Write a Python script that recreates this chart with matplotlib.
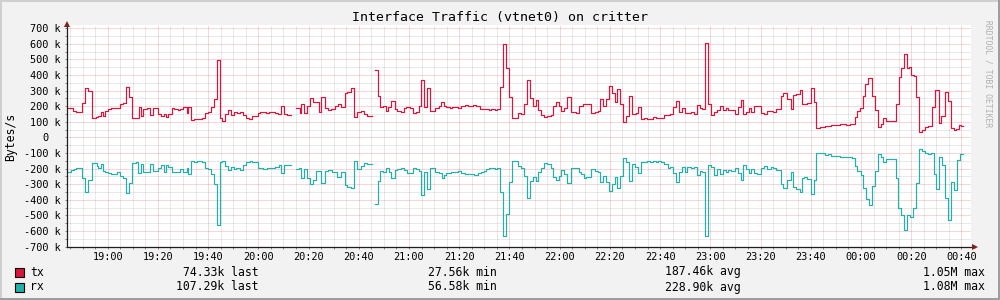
import numpy as np
import matplotlib
matplotlib.use("Agg")
import matplotlib.pyplot as plt
from matplotlib.patches import Rectangle
from matplotlib.ticker import FixedLocator
from matplotlib.transforms import ScaledTranslation

plt.rcParams["font.family"] = "DejaVu Sans Mono"

# step start times, minutes after 18:43; values in kB/s (nan = no data)
nan = float("nan")
tx_t = [0, 3.3, 4.6, 6.9, 8.0, 9.3, 10.6, 12.2, 13.3, 14.2, 15.0, 15.9, 17.0, 18.3, 19.6, 21.9,
        23.0, 24.3, 25.6, 26.9, 28.1, 29.5, 30.3, 31.2, 32.5, 33.9, 34.9, 37.2, 38.1, 39.3, 40.2,
        41.2, 42.5, 43.5, 45.1, 45.8, 47.1, 48.5, 49.1, 50.2, 51.2, 52.4, 54.4, 55.8, 57.1, 58.1, 59.2,
        60.7, 61.9, 62.5, 63.9, 64.9, 66.0, 67.3, 68.6, 69.8, 70.9, 72.2, 73.3, 74.6, 76.9, 77.8,
        79.9, 81.3, 83.5, 84.8, 86.2, 87.2, 88.6, 89.9, 91.9, 93.5, 94.1, 95.2, 96.5, 97.7, 98.8,
        101.0, 102.1, 103.4, 104.7, 106.1, 107.4, 108.7, 110.1, 111.4, 112.5, 113.8, 115.1, 116.4,
        117.8, 119.0,
        120.4, 122.3, 123.3, 124.7, 125.3, 126.7, 127.7, 128.6, 130.0, 131.3, 132.4, 133.7, 135.0,
        136.0, 137.3, 138.6, 139.9, 140.9, 141.7, 143.0, 144.0, 145.2, 147.5, 148.8, 149.9, 150.9,
        151.9, 153.2, 154.3, 156.5, 157.8, 159.2, 160.5, 162.5, 163.8, 165.1, 168.9, 169.8, 171.1,
        172.2, 173.1, 174.4, 175.8, 176.8, 177.9,
        180.4, 181.5, 182.8, 184.1, 185.2, 186.4, 187.5, 188.4, 189.4, 190.8, 192.1, 193.4, 194.4,
        195.4, 196.7, 197.7, 198.7, 200.1, 201.4, 203.7, 204.7, 206.3, 209.6, 211.0, 212.3, 213.2,
        214.3, 215.6, 216.7, 217.9, 218.9, 220.0, 221.2, 222.2, 223.6, 224.6, 225.8, 227.5, 228.2,
        229.3, 230.5, 231.9, 234.2, 235.2, 238.6,
        240.8, 242.1, 243.2, 244.4, 245.7, 246.8, 247.8, 249.2, 250.5, 251.8, 252.8, 253.8, 255.0,
        256.1, 257.4, 258.5, 259.8, 261.0, 262.1, 263.1, 264.0, 265.1, 267.0, 268.0, 269.1, 270.2,
        271.3, 272.3, 273.3, 274.4, 275.5, 277.3, 278.4, 279.7, 282.0, 283.3, 285.0, 286.0, 287.7,
        289.0, 289.9, 291.3, 292.6, 293.5, 295.6, 297.0, 298.3,
        299.2, 300.6, 302.5, 304.9, 308.5, 311.2, 312.5, 314.5, 315.4, 316.5, 317.8, 318.7, 319.8,
        321.4, 322.5, 323.8, 324.8, 325.8, 326.8, 331.1, 332.0, 333.1, 334.1, 335.2, 336.1, 337.1,
        338.0, 339.0, 340.1, 341.3, 342.4, 343.7, 345.3, 346.6, 347.9, 349.0, 350.3, 351.7, 352.7,
        354.0, 355.0, 356.0, 357.0]
tx_v = [187, 170, 161, 219, 315, 298, 123, 131, 138, 166, 138, 172, 180, 191, 187, 212, 223, 321,
        257, 127, 123, 195, 140, 182, 187, 144, 187, 153, 138, 148, 134, 148, 187, 182, 174, 180,
        198, 155, 193, 112, 116, 119, 127, 155, 166, 198, 247,
        497, 123, 107, 148, 174, 144, 161, 155, 166, 144, 123, 116, 140, 155, 166, 155, 161, 155,
        150, 200, 148, 144, nan, 187, 155, 217, 155, 204, 251, 225, 161, 257, 187, 176, 182, 202,
        217, 198, 283, 294, 315, 131, 166, 170, 148,
        138, nan, 433, 268, 198, 202, 170, 198, 234, 180, 170, 161, 187, 195, 187, 155, 161, 202,
        368, 198, 315, 170, 187, 204, 225, 204, 198, 191, 198, 191, 204, 208, 204, 208, 200, 182,
        174, 182, 174, 182, 326, 600, 443, 257, 123,
        155, 148, 212, 368, 251, 204, 238, 174, 144, 131, 140, 144, 202, 225, 204, 170, 187, 257,
        161, 155, 202, 212, 155, 161, 170, 247, 204, 247, 328, 283, 230, 311, 217, 101, 140, 266,
        148, 159, 195, 119, 123, 116, 129, 123, 144,
        148, 198, 234, 161, 187, 159, 155, 161, 153, 208, 187, 182, 604, 215, 144, 161, 176, 204,
        174, 191, 176, 174, 148, 198, 238, 148, 161, 191, 166, 200, 204, 155, 148, 172, 161, 180,
        266, 287, 247, 182, 272, 277, 302, 212, 221, 315, 225,
        59, 65, 72, 80, 84, 80, 86, 129, 170, 187, 268, 342, 379, 264, 174, 65, 84, 123, 104, 212,
        390, 443, 537, 443, 450, 400, 396, 257, 33, 46, 69, 74, 198, 302, 91, 138, 294, 236, 59, 48,
        55, 80, 74]

rx_t = [0, 1.3, 2.4, 3.7, 4.6, 6.9, 8.0, 9.3, 10.6, 12.6, 13.3, 14.2, 15.0, 15.9, 17.0, 18.3,
        20.6, 21.9, 23.0, 24.3, 25.6, 26.9, 28.1, 29.2, 30.3, 31.2, 33.9, 34.9, 37.2, 38.1, 39.3,
        40.2, 41.2, 42.5, 43.5, 45.8, 47.1, 48.5, 49.1, 50.2, 51.2, 52.4, 54.4, 55.8, 57.1, 58.1, 59.2,
        60.7, 61.9, 62.5, 63.9, 64.9, 66.0, 67.3, 68.2, 69.8, 70.9, 72.2, 73.6, 74.6, 76.9, 78.9,
        80.5, 83.5, 85.1, 86.2, 87.2, 89.9, 91.9, 93.2, 94.1, 95.2, 96.5, 97.4, 98.8, 100.1, 101.8,
        103.4, 104.7, 106.3, 107.7, 108.5, 109.8, 111.4, 112.5, 113.8, 115.1, 116.4, 117.8, 119.0,
        120.4, 122.3, 123.3, 124.7, 125.3, 126.7, 128.0, 128.9, 130.0, 131.3, 132.4, 133.7, 135.0,
        136.3, 138.6, 139.9, 140.9, 141.7, 143.0, 144.0, 145.2, 147.5, 148.8, 150.2, 150.9, 151.9,
        153.9, 155.2, 156.5, 157.8, 159.2, 162.9, 164.5, 165.6, 166.9, 167.8, 168.9, 171.1, 172.2,
        173.1, 174.4, 175.8, 176.8, 177.9,
        180.4, 181.5, 182.8, 184.1, 185.2, 186.4, 187.5, 188.4, 189.4, 190.8, 192.1, 193.4, 194.4,
        195.4, 196.7, 197.7, 198.7, 200.1, 201.4, 203.7, 204.7, 205.6, 206.6, 207.6, 209.6, 211.0,
        212.3, 213.2, 214.3, 215.6, 216.7, 217.9, 218.9, 220.0, 221.2, 222.2, 223.6, 224.6, 225.8,
        226.9, 228.2, 229.3, 230.5, 231.9, 232.9, 234.2, 235.2, 236.2, 237.5, 238.6,
        240.2, 240.8, 242.1, 243.2, 244.4, 245.7, 246.8, 247.8, 249.2, 250.5, 251.8, 252.8, 253.8,
        255.0, 256.1, 257.4, 258.5, 259.8, 261.0, 262.1, 263.1, 264.0, 265.1, 267.0, 268.0, 269.1,
        270.2, 271.3, 272.3, 273.3, 274.4, 275.5, 277.3, 278.4, 279.7, 281.0, 282.0, 283.3, 285.0,
        286.0, 287.7, 289.0, 289.9, 291.3, 292.6, 293.5, 294.3, 295.6, 297.0, 298.3,
        299.2, 302.5, 303.9, 304.9, 308.5, 310.2, 313.4, 314.8, 315.6, 316.9, 317.8, 319.1, 320.2,
        321.4, 322.5, 323.8, 324.8, 325.8, 326.8, 331.1, 331.8, 333.1, 334.1, 335.5, 336.7, 337.7,
        338.8, 340.1, 341.3, 342.4, 343.7, 345.0, 346.1, 347.0, 348.1, 349.3, 350.3, 351.7, 353.0,
        354.0, 355.4, 356.3]
rx_v = [224, 219, 210, 202, 198, 262, 347, 274, 166, 181, 198, 172, 215, 224, 230, 234, 219, 245,
        262, 354, 294, 161, 155, 226, 172, 224, 172, 215, 194, 177, 224, 177, 187, 224, 219, 202,
        219, 194, 234, 149, 155, 151, 159, 198, 204, 236, 300,
        561, 155, 151, 181, 208, 187, 202, 194, 208, 177, 155, 151, 159, 198, 202, 198, 190, 177,
        230, 177, nan, 202, 194, 262, 202, 262, 300, 272, 215, 294, 215, 210, 219, 224, 251, 224,
        304, 315, 326, 151, 202, 181, 163,
        168, nan, 429, 279, 215, 219, 198, 219, 262, 210, 202, 198, 208, 230, 194, 202, 215, 369,
        219, 330, 198, 219, 230, 262, 240, 230, 224, 219, 215, 230, 234, 240, 230, 219, 213, 204,
        198, 204, 198, 347, 631, 492, 283, 151,
        183, 194, 245, 390, 279, 251, 279, 219, 194, 166, 172, 198, 251, 272, 245, 210, 236, 294,
        198, 194, 219, 232, 257, 251, 204, 215, 219, 287, 245, 283, 343, 300, 251, 326, 245, 129,
        155, 279, 172, 187, 230, 155, 159, 151, 159, 151, 159, 149, 155, 172,
        194, 187, 230, 287, 219, 187, 219, 187, 194, 187, 240, 215, 219, 631, 177, 187, 240, 202,
        236, 210, 219, 210, 215, 194, 230, 274, 177, 202, 230, 202, 230, 236, 194, 181, 204, 187,
        194, 208, 300, 322, 272, 224, 317, 330, 347, 257, 251, 266, 364, 274,
        101, 112, 108, 116, 127, 123, 129, 181, 215, 240, 326, 397, 433, 311, 215, 108, 123, 155,
        140, 262, 450, 497, 593, 497, 510, 454, 294, 76, 87, 101, 108, 101, 232, 330, 127, 177, 390,
        529, 283, 337, 146, 107]
data_end = 357.8

tick_minutes = list(range(17, 358, 20))
tick_labels = ["19:00", "19:20", "19:40", "20:00", "20:20", "20:40", "21:00", "21:20", "21:40",
               "22:00", "22:20", "22:40", "23:00", "23:20", "23:40", "00:00", "00:20", "00:40"]
y_ticks = list(range(-700, 701, 100))

series_names = ["tx", "rx"]
series_colors = ["#dc143c", "#20b2aa"]
last_vals = ["74.33k last", "107.29k last"]
min_vals = ["27.56k min", "56.58k min"]
avg_vals = ["187.46k avg", "228.90k avg"]
max_vals = ["1.05M max", "1.08M max"]

W, H = 1000, 300
fig = plt.figure(figsize=(W / 100, H / 100), dpi=100, facecolor="#f2f2f2")

# 3d-ish frame
fig.patches.append(Rectangle((0, 1 - 2 / H), 1, 2 / H, transform=fig.transFigure, color="#cfcfcf", lw=0))
fig.patches.append(Rectangle((0, 0), 2 / W, 1, transform=fig.transFigure, color="#cfcfcf", lw=0))
fig.patches.append(Rectangle((0, 0), 1, 2 / H, transform=fig.transFigure, color="#9e9e9e", lw=0))
fig.patches.append(Rectangle((1 - 2 / W, 0), 2 / W, 1, transform=fig.transFigure, color="#9e9e9e", lw=0))

ax = fig.add_axes([66.7 / W, 53.3 / H, 904.3 / W, 222.2 / H])
ax.set_facecolor("white")
ax.set_xlim(0.7, 360.8)
ax.set_ylim(-700, 724)
for s in ax.spines.values():
    s.set_visible(False)

ax.xaxis.set_major_locator(FixedLocator(tick_minutes))
ax.set_xticklabels(tick_labels)
ax.xaxis.set_minor_locator(FixedLocator([m for m in np.arange(2, 361, 5) if m not in tick_minutes]))
ax.yaxis.set_major_locator(FixedLocator(y_ticks))
ax.set_yticklabels([f"{v} k" if v else "0" for v in y_ticks])
ax.yaxis.set_minor_locator(FixedLocator([v for v in range(-650, 701, 100)]))

ax.grid(which="minor", color=(0.56, 0.56, 0.56), alpha=0.38, linestyle=(0, (1, 1)), linewidth=0.72)
ax.grid(which="major", color=(0.87, 0.31, 0.31), alpha=0.45, linestyle=(0, (1, 1)), linewidth=0.72)
ax.set_axisbelow(True)
ax.tick_params(which="both", direction="out", length=1.44, width=0.72, color="#8a8a8a",
               labelsize=7.4, labelcolor="black")
ax.tick_params(axis="x", pad=2.2)
ax.tick_params(axis="y", pad=2.7)

# rrdtool prints "   0  " so the zero sits two columns left
for lbl in ax.get_yticklabels():
    if lbl.get_text() == "0":
        lbl.set_transform(lbl.get_transform() + ScaledTranslation(-8.9 / 72, 0, fig.dpi_scale_trans))

ax.plot(tx_t + [data_end], tx_v + [tx_v[-1]], drawstyle="steps-post", color=series_colors[0], lw=0.85)
ax.plot(rx_t + [data_end], [-v for v in rx_v] + [-rx_v[-1]], drawstyle="steps-post",
        color=series_colors[1], lw=0.85)

# axes with arrows
ax.plot([0, 1 + 4 / 904.3], [0, 0], transform=ax.transAxes, clip_on=False, color="#1f1f1f", lw=0.9)
ax.plot([0, 0], [0, 1 + 1 / 222.2], transform=ax.transAxes, clip_on=False, color="#1f1f1f", lw=0.9)
ax.plot([1 + 4 / 904.3], [0], marker=">", ms=4.5, color="#801f1f", transform=ax.transAxes,
        clip_on=False, mew=0)
ax.plot([0], [1 + 1 / 222.2], marker="^", ms=4.5, color="#801f1f", transform=ax.transAxes,
        clip_on=False, mew=0)

fig.text(0.5, 1 - 18 / H, "Interface Traffic (vtnet0) on critter", ha="center", va="center", size=9.5)
fig.text(11 / W, 1 - 137 / H, "Bytes/s", rotation=90, ha="center", va="center", size=8.3)
fig.text(988 / W, 1 - 20 / H, "RRDTOOL / TOBI OETIKER", rotation=270, ha="center", va="top",
         size=5.8, color="#b0b0b0")

for i, name in enumerate(series_names):
    y = 1 - (272 + 15 * i) / H
    fig.patches.append(Rectangle((15 / W, y - 4.5 / H), 9 / W, 9 / H, transform=fig.transFigure,
                                 facecolor=series_colors[i], edgecolor="black", lw=0.8))
    fig.text(30 / W, y, name, ha="left", va="center", size=8.3)
    fig.text(259 / W, y, last_vals[i], ha="right", va="center", size=8.3)
    fig.text(497 / W, y, min_vals[i], ha="right", va="center", size=8.3)
    fig.text(741 / W, y, avg_vals[i], ha="right", va="center", size=8.3)
    fig.text(985 / W, y, max_vals[i], ha="right", va="center", size=8.3)

fig.savefig("out.png", dpi=100, facecolor=fig.get_facecolor())
